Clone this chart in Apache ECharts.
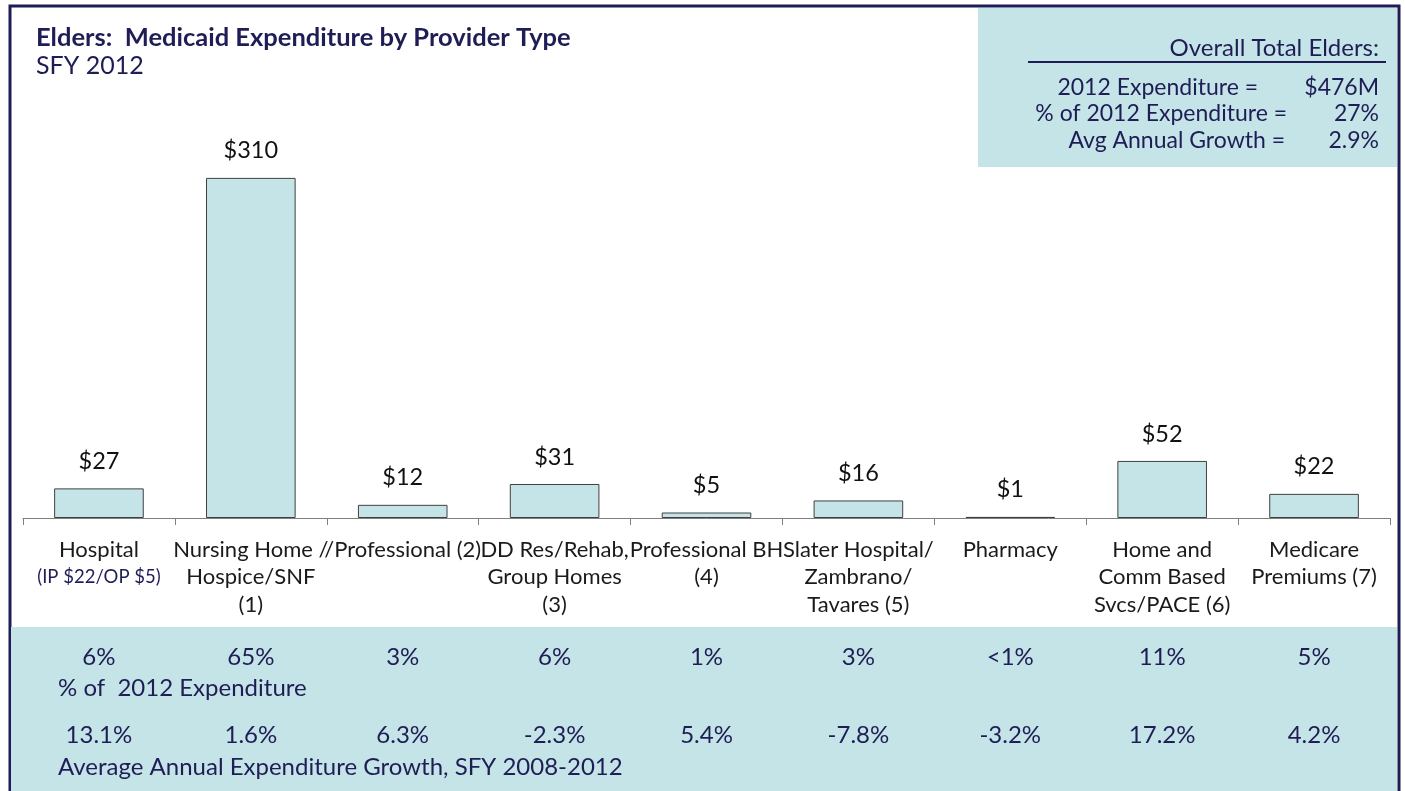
<!DOCTYPE html>
<html>
<head>
<meta charset="utf-8">
<script src="https://cdn.jsdelivr.net/npm/echarts@6/dist/echarts.min.js"></script>
<style>
  html, body { margin: 0; padding: 0; background: #fff; }
  #chart { width: 1405px; height: 791px; }
</style>
</head>
<body>
<div id="chart"></div>
<script>
// provider types, in chart order
const categories = [
  'Hospital',
  'Nursing Home /\nHospice/SNF\n(1)',
  '/Professional (2)',
  'DD Res/Rehab,\nGroup Homes\n(3)',
  'Professional BH\n(4)',
  'Slater Hospital/\nZambrano/\nTavares (5)',
  'Pharmacy',
  'Home and\nComm Based\nSvcs/PACE (6)',
  'Medicare\nPremiums (7)'
];
const hospitalNote = '(IP $22/OP $5)';

// SFY 2012 expenditure, $M
const spend = [27, 310, 12, 31, 5, 16, 1, 52, 22];
const shareOfSpend = ['6%', '65%', '3%', '6%', '1%', '3%', '<1%', '11%', '5%'];
const annualGrowth = ['13.1%', '1.6%', '6.3%', '-2.3%', '5.4%', '-7.8%', '-3.2%', '17.2%', '4.2%'];

const totals = [
  ['2012 Expenditure =', '$476M'],
  ['% of 2012 Expenditure =', '27%'],
  ['Avg Annual Growth =', '2.9%']
];

const NAVY = '#1f1d55';
const TEAL = '#c4e4e7';
const FONT = 'Lato';

var myChart = echarts.init(document.getElementById('chart'));

// the two rows in the bottom band: same category axis as the bars, pushed down
function rowAxis(list, offset) {
  return {
    type: 'category',
    gridIndex: 0,
    position: 'bottom',
    offset: offset,
    data: categories,
    axisLine: { show: false },
    axisTick: { show: false },
    axisLabel: {
      interval: 0,
      margin: 0,
      fontFamily: FONT,
      fontSize: 24,
      lineHeight: 28,
      color: NAVY,
      formatter: (v, i) => list[i]
    }
  };
}

function boxText(x, y, text, size) {
  return { type: 'text', x: x, y: y, style: { text: text, align: 'right', verticalAlign: 'middle',
    fontFamily: FONT, fontSize: size || 23, fill: NAVY } };
}

var option = {
  animation: false,
  textStyle: { fontFamily: FONT },
  title: {
    text: 'Elders:  Medicaid Expenditure by Provider Type',
    subtext: 'SFY 2012',
    left: 36,
    top: 24,
    itemGap: 0,
    padding: 0,
    textStyle: { fontFamily: FONT, fontSize: 25.5, lineHeight: 28, fontWeight: 'bold', color: NAVY },
    subtextStyle: { fontFamily: FONT, fontSize: 25, lineHeight: 28, color: NAVY }
  },
  grid: { left: 23, right: 15, top: 134, bottom: 273 },
  xAxis: [
    {
      type: 'category',
      data: categories,
      axisLine: { lineStyle: { color: '#7f7f7f', width: 1 } },
      axisTick: { show: true, length: 7, interval: 0, lineStyle: { color: '#7f7f7f' } },
      axisLabel: {
        interval: 0,
        margin: 18,
        fontFamily: FONT,
        fontSize: 22,
        lineHeight: 27.5,
        color: '#1a1a1a',
        formatter: (v, i) => i === 0 ? v + '\n{note|' + hospitalNote + '}' : v,
        rich: {
          note: { fontFamily: FONT, fontSize: 18.5, lineHeight: 27.5, color: NAVY }
        }
      }
    },
    rowAxis(shareOfSpend, 125),
    rowAxis(annualGrowth, 203)
  ],
  yAxis: { type: 'value', min: 0, max: 350, show: false },
  series: [
    {
      type: 'bar',
      data: spend,
      barCategoryGap: '41%',
      itemStyle: { color: TEAL, borderColor: '#404040', borderWidth: 1 },
      label: {
        show: true,
        position: 'top',
        distance: 15,
        fontFamily: FONT,
        fontSize: 23.5,
        color: '#111',
        formatter: '${c}'
      }
    }
  ],
  graphic: [
    // outer frame
    { type: 'rect', z: -20, silent: true, shape: { x: 10, y: 6, width: 1389, height: 800 },
      style: { fill: '#fff', stroke: NAVY, lineWidth: 3 } },
    // totals box
    { type: 'rect', z: -10, silent: true, shape: { x: 978, y: 8, width: 419, height: 159 },
      style: { fill: TEAL } },
    { type: 'line', z: -5, silent: true, shape: { x1: 1028, y1: 62, x2: 1386, y2: 62 },
      style: { stroke: NAVY, lineWidth: 2 } },
    boxText(1379, 48, 'Overall Total Elders:', 24),
    boxText(1258, 88, totals[0][0]),
    boxText(1379, 88, totals[0][1]),
    boxText(1287, 114, totals[1][0]),
    boxText(1379, 114, totals[1][1]),
    boxText(1285, 141, totals[2][0]),
    boxText(1379, 141, totals[2][1]),
    // bottom band
    { type: 'rect', z: -10, silent: true, shape: { x: 11, y: 627, width: 1386, height: 170 },
      style: { fill: TEAL } },
    { type: 'text', x: 58, y: 688, style: { text: '% of  2012 Expenditure', verticalAlign: 'middle', fontFamily: FONT, fontSize: 24, fill: NAVY } },
    { type: 'text', x: 58, y: 767, style: { text: 'Average Annual Expenditure Growth, SFY 2008-2012', verticalAlign: 'middle', fontFamily: FONT, fontSize: 24, fill: NAVY } }
  ]
};

myChart.setOption(option);

window.onresize = ()=>{
  myChart.resize();
}
</script>
</body>
</html>
